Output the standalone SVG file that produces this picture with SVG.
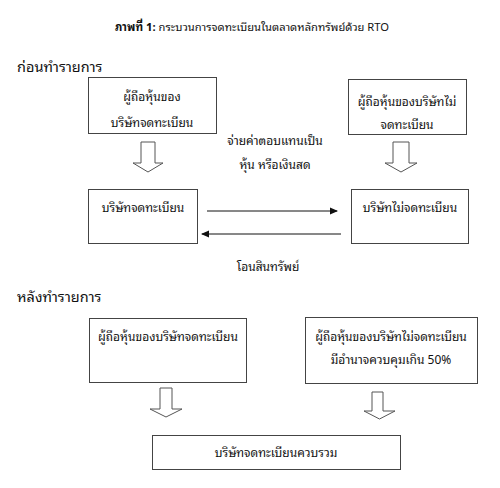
<svg xmlns="http://www.w3.org/2000/svg" width="500" height="488" viewBox="0 0 500 488">
<style>
text{font-family:"Noto Sans Thai Looped","Tahoma","Noto Sans Thai","Noto Sans","DejaVu Sans",sans-serif;fill:#111;}
.t{font-size:12px;text-anchor:middle;}
.h{font-size:14.5px;}
.box{fill:#fff;stroke:#444;stroke-width:1;}
.ha{fill:#fff;stroke:#555;stroke-width:1;}
.ln{stroke:#111;stroke-width:1;fill:none;}
</style>
<defs>
<marker id="ah" markerWidth="8" markerHeight="8" refX="7" refY="4" orient="auto" markerUnits="userSpaceOnUse">
<path d="M0,0.5 L8,4 L0,7.5 Z" fill="#111"/>
</marker>
</defs>
<rect width="500" height="488" fill="#fff"/>
<text x="252" y="31" style="font-size:11.2px;text-anchor:middle"><tspan font-weight="bold">ภาพที่ 1:</tspan> กระบวนการจดทะเบียนในตลาดหลักทรัพย์ด้วย RTO</text>
<text class="h" x="17" y="72">ก่อนทำรายการ</text>
<text class="h" x="17" y="302">หลังทำรายการ</text>
<g id="n1"><rect class="box" x="88.5" y="77.5" width="128" height="56"/><text class="t" x="152" y="101">ผู้ถือหุ้นของ</text><text class="t" x="152" y="127">บริษัทจดทะเบียน</text></g>
<g id="n2"><rect class="box" x="348.5" y="79.5" width="118" height="55"/><text class="t" x="407" y="106">ผู้ถือหุ้นของบริษัทไม่</text><text class="t" x="407" y="129">จดทะเบียน</text></g>
<g id="n3"><rect class="box" x="88.5" y="189.5" width="109" height="54"/><text class="t" x="143" y="212">บริษัทจดทะเบียน</text></g>
<g id="n4"><rect class="box" x="351.5" y="189.5" width="117" height="54"/><text class="t" x="410" y="212">บริษัทไม่จดทะเบียน</text></g>
<g id="n5"><rect class="box" x="89.5" y="318.5" width="157" height="64"/><text class="t" x="168" y="341">ผู้ถือหุ้นของบริษัทจดทะเบียน</text></g>
<g id="n6"><rect class="box" x="305.5" y="317.5" width="172" height="66"/><text class="t" x="391" y="341">ผู้ถือหุ้นของบริษัทไม่จดทะเบียน</text><text class="t" x="391" y="364">มีอำนาจควบคุมเกิน 50%</text></g>
<g id="n7"><rect class="box" x="152.5" y="435.5" width="248" height="34"/><text class="t" x="276" y="457">บริษัทจดทะเบียนควบรวม</text></g>
<g id="connectors">
<path class="ha" d="M141,142 H155 V163 H163 L148,172 L133,163 H141 Z"/>
<path class="ha" d="M393,142 H409 V163 H417 L401,172 L385,163 H393 Z"/>
<path class="ha" d="M160,388 H172 V409 H182 L166,417 L150,409 H160 Z"/>
<path class="ha" d="M372,392 H383 V411 H395 L379.5,419 L364,411 H372 Z"/>
<line class="ln" x1="207" y1="211" x2="337" y2="211" marker-end="url(#ah)"/>
<line class="ln" x1="341" y1="234" x2="202" y2="234" marker-end="url(#ah)"/>
<text class="t" x="275" y="145">จ่ายค่าตอบแทนเป็น</text>
<text class="t" x="275" y="169">หุ้น หรือเงินสด</text>
<text class="t" x="268" y="271">โอนสินทรัพย์</text>
</g>
</svg>
